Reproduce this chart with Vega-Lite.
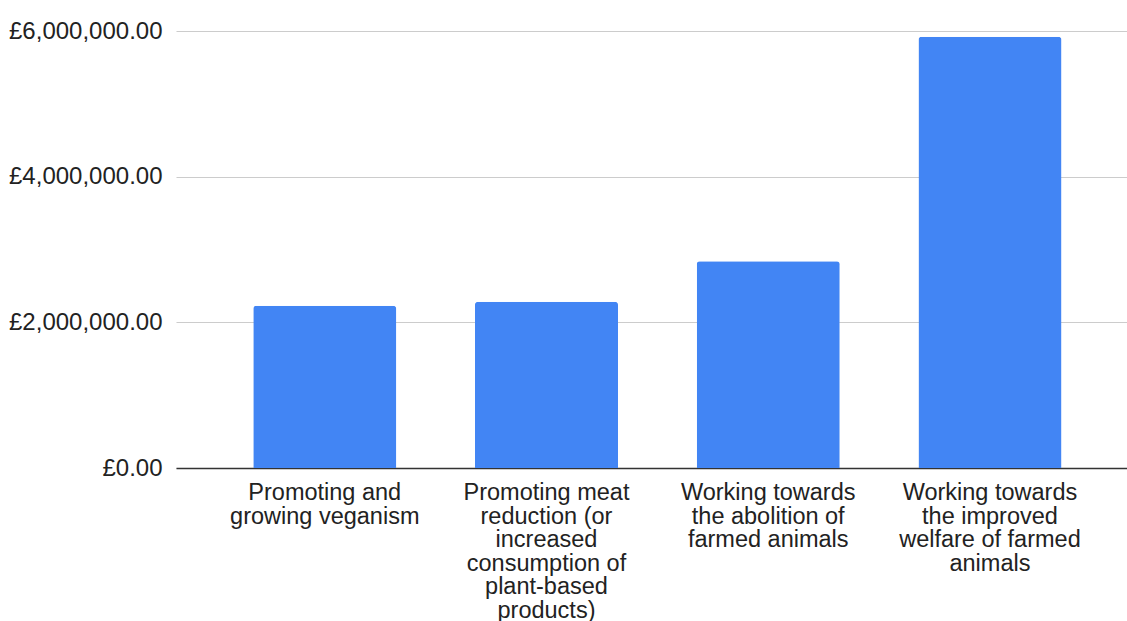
{
  "$schema": "https://vega.github.io/schema/vega-lite/v6.json",
  "width": 951,
  "height": 437,
  "autosize": {"type": "none"},
  "padding": {"left": 176, "top": 31, "right": 0, "bottom": 153},
  "background": "white",
  "data": {
    "values": [
      {"cause": "Promoting and|growing veganism", "amount": 2228000},
      {"cause": "Promoting meat|reduction (or|increased|consumption of|plant-based|products)", "amount": 2283000},
      {"cause": "Working towards|the abolition of|farmed animals", "amount": 2838000},
      {"cause": "Working towards|the improved|welfare of farmed|animals", "amount": 5922000}
    ]
  },
  "mark": {"type": "bar", "color": "#4285F4", "cornerRadiusTopLeft": 3, "cornerRadiusTopRight": 3},
  "encoding": {
    "x": {
      "field": "cause",
      "type": "nominal",
      "sort": null,
      "title": null,
      "scale": {"paddingInner": 0.355, "paddingOuter": 0.322, "align": 0.541},
      "axis": {
        "labelExpr": "split(datum.label, '|')",
        "labelAngle": 0,
        "labelFont": "Liberation Sans",
        "labelFontSize": 23.5,
        "labelLineHeight": 23.6,
        "labelColor": "#222222",
        "labelBaseline": "top",
        "labelPadding": 12.5,
        "labelLimit": 0,
        "ticks": false,
        "domainColor": "#333333",
        "domainWidth": 1.3,
        "grid": false
      }
    },
    "y": {
      "field": "amount",
      "type": "quantitative",
      "title": null,
      "scale": {"domain": [0, 6000000], "nice": false},
      "axis": {
        "values": [0, 2000000, 4000000, 6000000],
        "labelExpr": "'£' + format(datum.value, ',.2f')",
        "labelFont": "Liberation Sans",
        "labelFontSize": 24,
        "labelColor": "#222222",
        "labelPadding": 14,
        "ticks": false,
        "domain": false,
        "gridColor": "#cccccc",
        "gridWidth": 1.2
      }
    }
  },
  "config": {"view": {"stroke": null}}
}
